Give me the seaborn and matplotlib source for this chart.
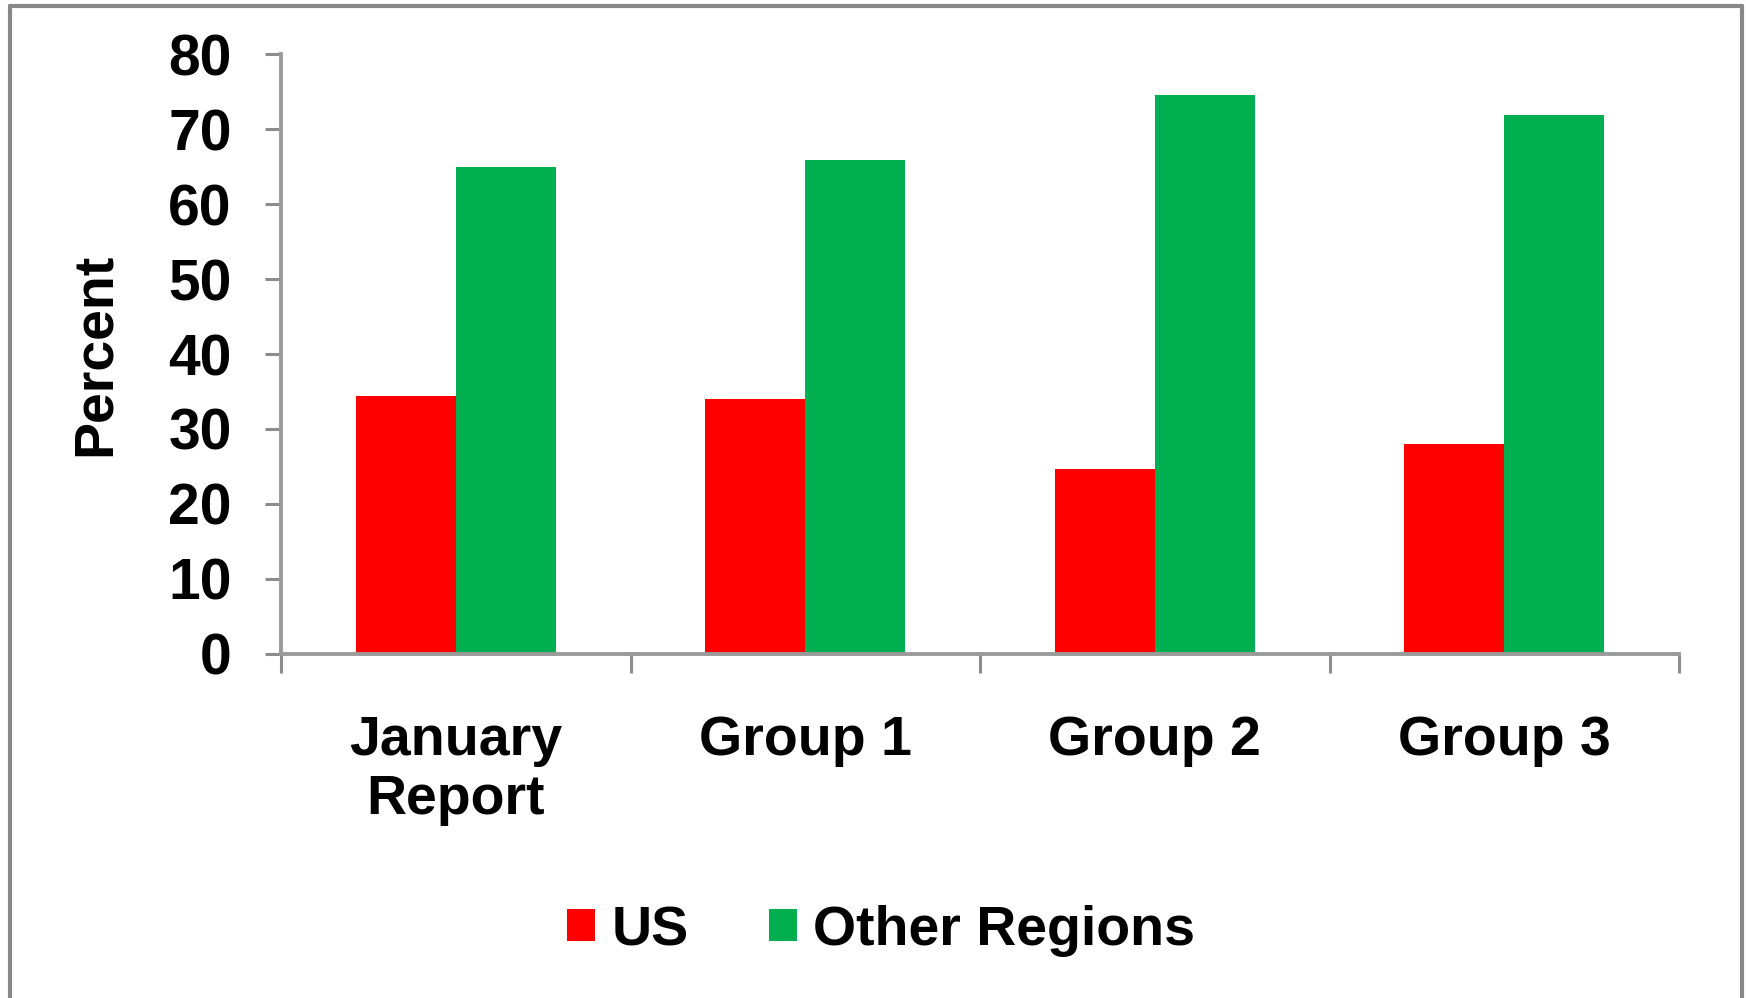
import matplotlib
matplotlib.use("Agg")
import matplotlib.pyplot as plt
from matplotlib.lines import Line2D
import pandas as pd
import seaborn as sns

# Chart data
categories = ["January\nReport", "Group 1", "Group 2", "Group 3"]
series_names = ["US", "Other Regions"]
us_values = [34.4, 34.0, 24.7, 28.0]
other_values = [65.0, 65.9, 74.6, 71.9]
y_ticks = [0, 10, 20, 30, 40, 50, 60, 70, 80]
series_colors = ["#FF0000", "#00B050"]

df = pd.DataFrame({
    "Category": categories * 2,
    "Region": [series_names[0]] * len(categories) + [series_names[1]] * len(categories),
    "Percent": us_values + other_values,
})

sns.set_theme(style="ticks")
plt.rcParams["font.family"] = ["Liberation Sans", "DejaVu Sans"]
plt.rcParams["font.weight"] = "bold"
plt.rcParams["axes.labelweight"] = "bold"
plt.rcParams["text.color"] = "black"
plt.rcParams["axes.labelcolor"] = "black"

fig = plt.figure(figsize=(17.46, 9.98), dpi=100)
fig.patch.set_facecolor("white")
ax = fig.add_axes([281 / 1746, 1 - 653.7 / 998, 1398 / 1746, 599.4 / 998])

sns.barplot(
    data=df, x="Category", y="Percent", hue="Region",
    order=categories, hue_order=series_names,
    palette=series_colors, saturation=1, width=0.572,
    linewidth=0, ax=ax,
)

# Legend below the plot, centred
handles, labels = ax.get_legend_handles_labels()
ax.get_legend().remove()
fig.legend(
    handles, labels, loc="center", bbox_to_anchor=(0.5046, 1 - 931 / 998),
    ncol=2, frameon=False, prop={"size": 40, "weight": "bold"},
    handlelength=0.5, handleheight=0.5, handletextpad=0.3,
    columnspacing=1.45, borderpad=0, labelcolor="black",
)

ax.set_xlim(-0.5, len(categories) - 0.5)
ax.set_ylim(0, 80)
ax.set_yticks(y_ticks)
ax.set_xlabel("")
ax.set_ylabel("Percent", fontsize=40, fontweight="bold", color="black")
ax.yaxis.set_label_coords(-0.114, 0.50)

spine_color = "#9a9a9a"
for side in ("top", "right"):
    ax.spines[side].set_visible(False)
for side in ("left", "bottom"):
    ax.spines[side].set_color(spine_color)
    ax.spines[side].set_linewidth(2.8)
    ax.spines[side].set_zorder(5)

ax.tick_params(axis="y", which="major", direction="out", length=11.5, width=2.2,
               color="#8c8c8c", pad=24, labelsize=41, labelcolor="black")
ax.tick_params(axis="x", which="major", length=0, pad=44, labelsize=40,
               labelcolor="black")
ax.set_xticks([i - 0.5 for i in range(len(categories) + 1)], minor=True)
ax.tick_params(axis="x", which="minor", direction="out", length=13.5, width=2.2,
               color="#8c8c8c")
for lbl in ax.get_xticklabels():
    lbl.set_linespacing(1.18)
    lbl.set_fontweight("bold")
for lbl in ax.get_yticklabels():
    lbl.set_fontweight("bold")

# Outer frame around the chart area
frame_kw = dict(transform=fig.transFigure, color="#888888", linewidth=3, clip_on=False)
x0, x1 = 9.5 / 1746, 1741.5 / 1746
ytop = 1 - 6 / 998
fig.add_artist(Line2D([x0, x0], [-0.01, ytop], **frame_kw))
fig.add_artist(Line2D([x0, x1], [ytop, ytop], **frame_kw))
fig.add_artist(Line2D([x1, x1], [ytop, -0.01], **frame_kw))

fig.savefig("out.png", dpi=100)
